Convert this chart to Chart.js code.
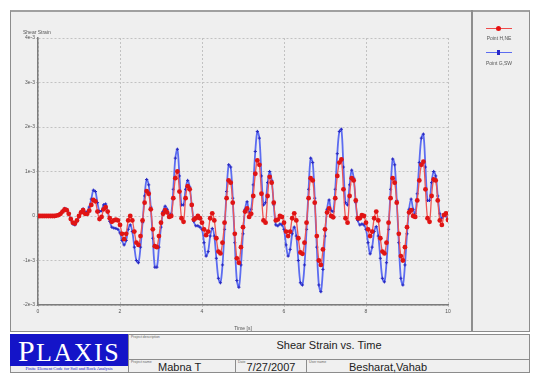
<!DOCTYPE html>
<html>
<head>
<meta charset="utf-8">
<script src="https://cdn.jsdelivr.net/npm/chart.js"></script>
<style>
    body { margin: 0; width: 535px; height: 374px; background: #fff; position: relative; overflow: hidden; font-family: "Liberation Sans", Arial, sans-serif; }
    .abs { position: absolute; }
    #quadro { left: 10px; top: 10px; width: 520px; height: 322px; box-sizing: border-box; background: #efefef; border: 1px solid #8c8c8c; border-top: 2px solid #a0a0a0; }
    #divisor { left: 471px; top: 10px; width: 2px; height: 322px; background: #8e8e8e; }
    #grafico-box { left: 10px; top: 10px; width: 461px; height: 322px; }
    #titulo-y { left: 23px; top: 29px; font-size: 5px; color: #555; }
    .leg-linha { height: 1px; width: 26px; left: 486px; }
    .leg-ponto { width: 5px; height: 5px; border-radius: 50%; left: 496px; }
    .leg-texto { font-size: 5px; color: #555; width: 60px; left: 469px; text-align: center; }
    #rodape { left: 10px; top: 334px; width: 520px; height: 39px; box-sizing: border-box; background: #f0f0f0; border: 1px solid #8c8c8c; }
    #logo { left: 10px; top: 334px; width: 118px; height: 32px; background: #1414c8; color: #fff; font-family: "Liberation Serif", "DejaVu Serif", serif; font-size: 26px; line-height: 33px; text-align: center; letter-spacing: 1.5px; }
    #logo span { font-size: 30px; }
    #slogan { left: 10px; top: 366px; width: 118px; font-size: 4.5px; color: #1414c8; font-family: "Liberation Serif", serif; text-align: center; white-space: nowrap; }
    .rotulo { font-size: 3.5px; color: #666; white-space: nowrap; }
    .grande { font-size: 11px; color: #222; white-space: nowrap; }
    .vline { width: 1px; background: #8c8c8c; }
</style>
</head>
<body>
<div id="quadro" class="abs"></div>
<div id="divisor" class="abs"></div>
<div id="grafico-box" class="abs"><canvas id="graficoDeformacao"></canvas></div>
<div id="titulo-y" class="abs">Shear Strain</div>

<!-- legenda -->
<div class="abs leg-linha" style="top:28px;background:#ee4b4b"></div>
<div class="abs leg-ponto" style="top:26px;background:#e81010"></div>
<div class="abs leg-texto" style="top:35px">Point H,NE</div>
<div class="abs leg-linha" style="top:52px;background:#5c6cf0"></div>
<div class="abs leg-ponto" style="top:50px;left:497px;width:3px;height:5px;border-radius:0;background:#2828c8"></div>
<div class="abs leg-texto" style="top:60px">Point G,SW</div>

<!-- carimbo -->
<div id="rodape" class="abs"></div>
<div class="abs" style="left:128px;top:359px;width:402px;height:1px;background:#8c8c8c"></div>
<div class="abs vline" style="left:128px;top:334px;height:39px"></div>
<div class="abs vline" style="left:235px;top:359px;height:14px"></div>
<div class="abs vline" style="left:306px;top:359px;height:14px"></div>
<div id="logo" class="abs"><span>P</span>LAXIS</div>
<div id="slogan" class="abs">Finite Element Code for Soil and Rock Analysis</div>
<div class="abs rotulo" style="left:131px;top:335px">Project description</div>
<div class="abs grande" style="left:128px;top:339px;width:402px;text-align:center;padding-left:0">Shear Strain vs. Time</div>
<div class="abs rotulo" style="left:131px;top:360px">Project name</div>
<div class="abs grande" style="left:158px;top:361px">Mabna T</div>
<div class="abs rotulo" style="left:238px;top:360px">Date</div>
<div class="abs grande" style="left:236px;top:361px;width:70px;text-align:center">7/27/2007</div>
<div class="abs rotulo" style="left:309px;top:360px">User name</div>
<div class="abs grande" style="left:349px;top:361px">Besharat,Vahab</div>

<script>
// passo de tempo entre as amostras (s)
const passo = 0.05;

// deformacao cisalhante (x 1e-3), Point H,NE
const pontoHNE = [
    0, 0, 0, 0, 0, 0, 0, 0, 0, 0.01,
    0.02, 0.05, 0.1, 0.15, 0.13, 0.05, -0.07, -0.15, -0.17, -0.1,
    0, 0.08, 0.13, 0.05, 0.05, 0.12, 0.25, 0.36, 0.33, 0.1,
    -0.07, -0.02, 0.15, 0.2, 0.1, -0.05, -0.13, -0.1, -0.08, -0.1,
    -0.2, -0.4, -0.52, -0.4, -0.1, 0, -0.1, -0.35, -0.6, -0.65,
    -0.45, -0.1, 0.3, 0.56, 0.5, 0.15, -0.3, -0.68, -0.7, -0.45,
    -0.15, 0.05, 0.13, 0.08, -0.02, 0, 0.4, 0.85, 1.0, 0.55,
    -0.05, -0.13, 0.4, 0.67, 0.6, 0.25, -0.08, -0.05, 0, -0.05,
    -0.15, -0.3, -0.43, -0.35, -0.05, 0.06, -0.1, -0.5, -0.8, -0.84,
    -0.6, -0.15, 0.4, 0.8, 0.75, 0.3, -0.4, -0.95, -1.05, -0.7,
    -0.25, 0.1, 0.17, -0.02, 0.05, 0.45, 0.95, 1.25, 1.15, 0.5,
    -0.1, -0.15, 0.45, 0.88, 0.75, 0.3, -0.1, -0.08, 0, -0.02,
    -0.15, -0.35, -0.45, -0.35, -0.05, 0.06, -0.1, -0.5, -0.82, -0.85,
    -0.6, -0.15, 0.4, 0.85, 0.8, 0.3, -0.45, -1.0, -1.1, -0.75,
    -0.3, 0.08, 0.17, 0, -0.03, 0.4, 0.9, 1.2, 1.27, 0.6,
    -0.05, -0.15, 0.45, 0.85, 0.8, 0.35, -0.05, -0.05, 0.02, 0,
    -0.15, -0.3, -0.45, -0.35, -0.05, 0.1, -0.1, -0.5, -0.8, -0.84,
    -0.6, -0.15, 0.4, 0.85, 0.75, 0.3, -0.4, -0.9, -1.0, -0.7,
    -0.25, 0.08, 0.13, 0, -0.02, 0.35, 0.8, 1.15, 1.22, 0.6,
    -0.05, -0.13, 0.45, 0.82, 0.8, 0.35, -0.1, -0.2, 0.02, 0.06,
    -0.09
];

// deformacao cisalhante (x 1e-3), Point G,SW
const pontoGSW = [
    0, 0, 0, 0, 0, 0, 0, 0, 0, 0.01,
    0.02, 0.06, 0.12, 0.17, 0.15, 0.06, -0.08, -0.18, -0.2, -0.12,
    -0.02, 0.1, 0.16, 0.08, 0.1, 0.2, 0.38, 0.58, 0.55, 0.3,
    0.1, 0.12, 0.25, 0.27, 0.1, -0.12, -0.25, -0.27, -0.28, -0.3,
    -0.38, -0.55, -0.65, -0.55, -0.3, -0.2, -0.35, -0.7, -1.0, -1.05,
    -0.7, -0.15, 0.45, 0.82, 0.7, 0.2, -0.5, -1.15, -1.15, -0.7,
    -0.25, 0.1, 0.22, 0.15, 0.02, 0.05, 0.6, 1.3, 1.5, 0.9,
    0.25, 0.25, 0.6, 0.8, 0.65, 0.25, -0.12, -0.22, -0.22, -0.25,
    -0.3, -0.6, -0.9, -0.8, -0.45, -0.28, -0.45, -0.95, -1.4, -1.5,
    -1.1, -0.3, 0.55, 1.15, 1.1, 0.4, -0.6, -1.45, -1.6, -1.1,
    -0.4, 0.15, 0.32, 0.08, 0.15, 0.7, 1.45, 1.9, 1.75, 0.9,
    0.25, 0.3, 0.75, 1.0, 0.8, 0.25, -0.2, -0.22, -0.18, -0.2,
    -0.3, -0.65, -0.9, -0.75, -0.4, -0.25, -0.45, -1.0, -1.5, -1.55,
    -1.1, -0.3, 0.6, 1.3, 1.2, 0.4, -0.7, -1.55, -1.7, -1.2,
    -0.45, 0.15, 0.36, 0.12, 0.1, 0.6, 1.4, 1.9, 1.95, 1.1,
    0.3, 0.25, 0.7, 1.03, 0.85, 0.3, -0.1, -0.2, -0.18, -0.2,
    -0.3, -0.6, -0.85, -0.7, -0.35, -0.24, -0.45, -0.95, -1.4, -1.48,
    -1.05, -0.3, 0.6, 1.28, 1.15, 0.35, -0.6, -1.4, -1.55, -1.1,
    -0.4, 0.15, 0.38, 0.15, 0.05, 0.5, 1.2, 1.75, 1.84, 1.1,
    0.35, 0.35, 0.75, 1.0, 0.9, 0.45, 0.05, -0.05, 0.02, 0,
    -0.05
];

// rotulos do eixo y, de -2 a 4
const rotulosY = ["-2e-3", "-1e-3", "0", "1e-3", "2e-3", "3e-3", "4e-3"];
const rotulosX = ["0", "2", "4", "6", "8", "10"];

function montarPontos(valores) {
    return valores.map((v, i) => ({ x: +(i * passo).toFixed(2), y: v }));
}

function criarGrafico() {
    Chart.defaults.font.family = '"Liberation Sans", Arial, sans-serif';
    const ctx = document.getElementById("graficoDeformacao").getContext("2d");

    new Chart(ctx, {
        type: "line",
        data: {
            datasets: [
                {
                    label: "Point H,NE",
                    data: montarPontos(pontoHNE),
                    borderColor: "#ef5454",
                    borderWidth: 1.3,
                    pointRadius: 2.4,
                    pointBackgroundColor: "#e01414",
                    pointBorderWidth: 0,
                    tension: 0.35
                },
                {
                    label: "Point G,SW",
                    data: montarPontos(pontoGSW),
                    borderColor: "#5c6cf0",
                    borderWidth: 1.8,
                    pointStyle: "cross",
                    pointRadius: 1.6,
                    pointBorderColor: "#2828c0",
                    pointBorderWidth: 1,
                    tension: 0.35
                }
            ]
        },
        options: {
            responsive: true,
            maintainAspectRatio: false,
            animation: false,
            layout: { padding: { left: 0, right: 23, top: 28, bottom: 0 } },
            plugins: {
                legend: { display: false },
                tooltip: { enabled: false }
            },
            scales: {
                x: {
                    type: "linear",
                    min: 0,
                    max: 10,
                    afterFit: escala => { escala.height = 27; },
                    ticks: {
                        stepSize: 2,
                        font: { size: 5 },
                        color: "#555",
                        padding: 2,
                        maxRotation: 0,
                        callback: v => rotulosX[v / 2]
                    },
                    grid: { color: "#c2c2c2", lineWidth: 1, tickLength: 2 },
                    border: { color: "#7c7c7c", width: 1.5, dash: [2, 2] },
                    title: { display: true, text: "Time [s]", font: { size: 5 }, color: "#555", padding: { top: 3, bottom: 0 } }
                },
                y: {
                    min: -2,
                    max: 4,
                    afterFit: escala => { escala.width = 28; },
                    ticks: {
                        stepSize: 1,
                        font: { size: 5 },
                        color: "#555",
                        padding: 1,
                        callback: v => rotulosY[v + 2]
                    },
                    grid: { color: "#c2c2c2", lineWidth: 1, tickLength: 2 },
                    border: { color: "#7c7c7c", width: 1.5, dash: [2, 2] }
                }
            }
        }
    });
}

criarGrafico();
</script>
</body>
</html>
